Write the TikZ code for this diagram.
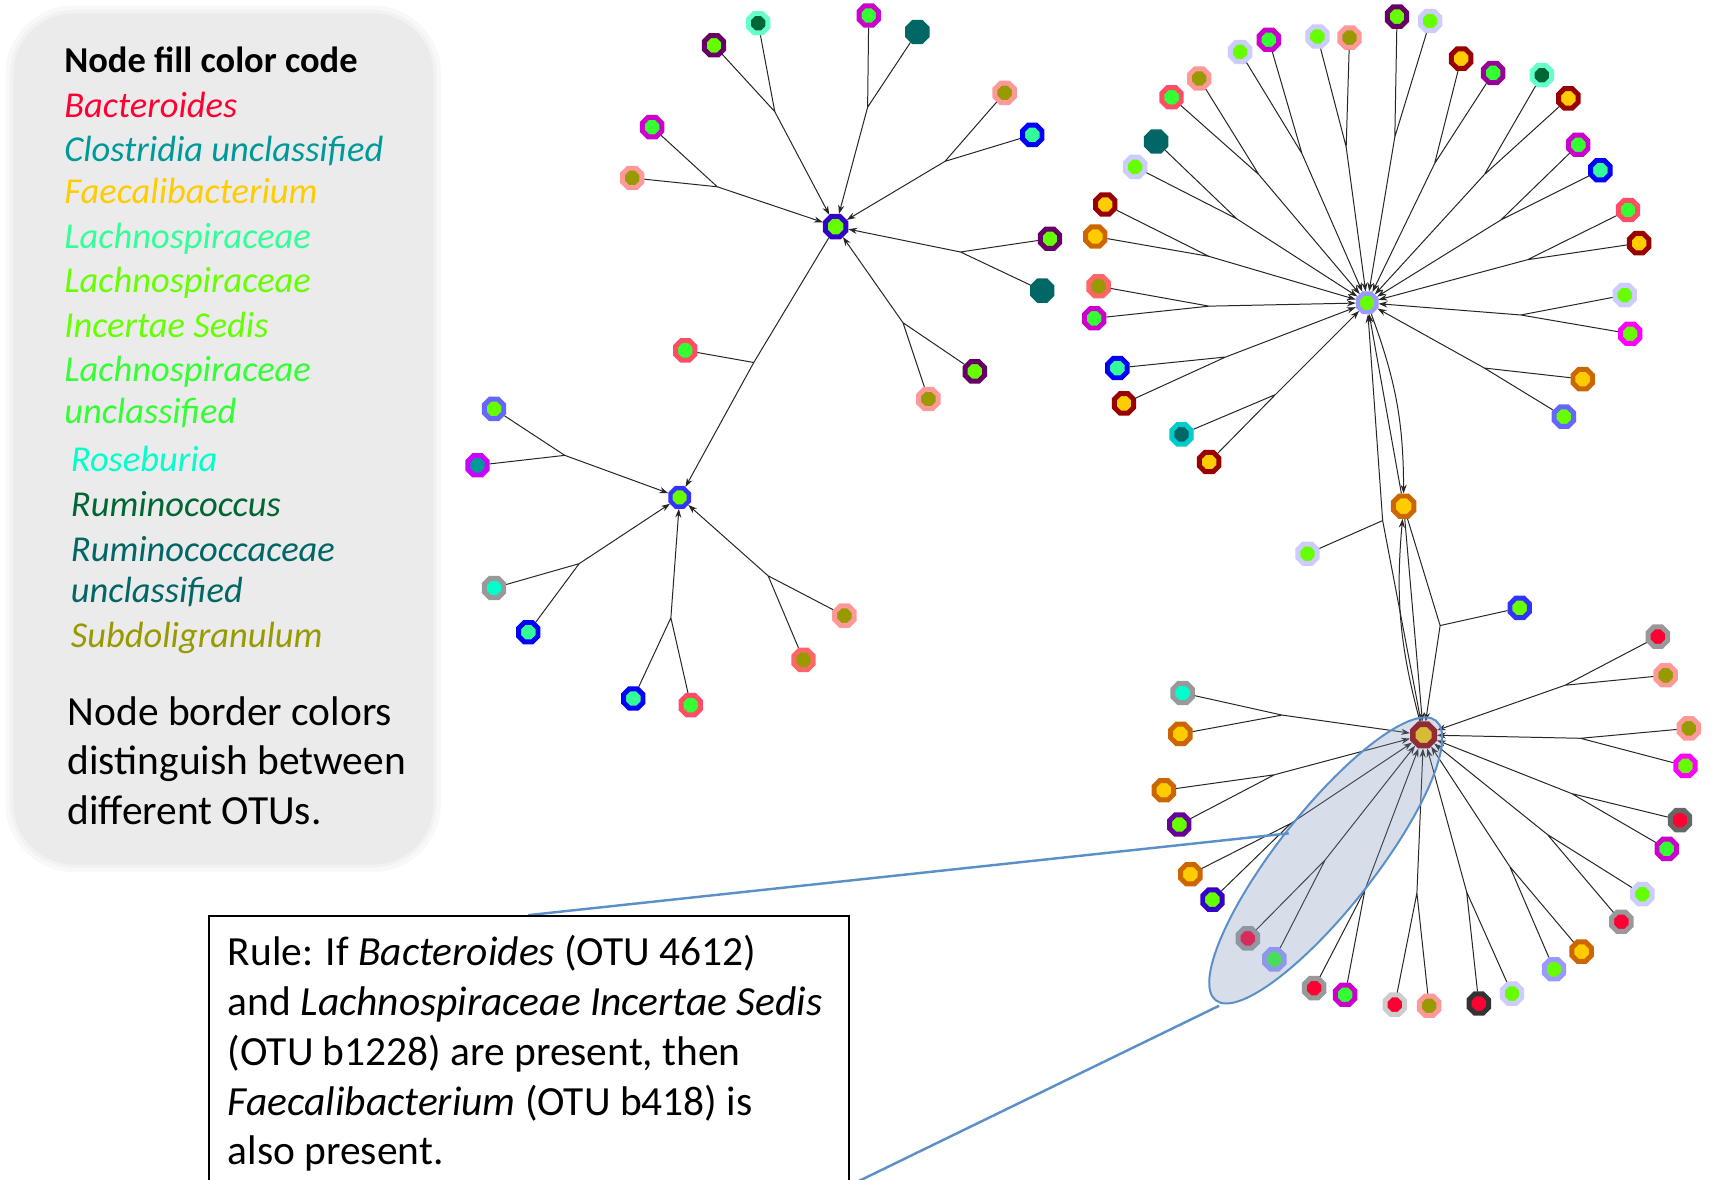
\documentclass[tikz,border=0pt]{standalone}
\usepackage{fontspec}
\setmainfont{Carlito}
\usetikzlibrary{shapes.geometric,arrows.meta}

% border colours (one per OTU family)
\definecolor{bPurple}{HTML}{660066}
\definecolor{bPlum}{HTML}{990099}
\definecolor{bGrape}{HTML}{660099}
\definecolor{bMagenta}{HTML}{CC00CC}
\definecolor{bFuchsia}{HTML}{FF00FF}
\definecolor{bViolet}{HTML}{CC00FF}
\definecolor{bPink}{HTML}{FF9999}
\definecolor{bCoral}{HTML}{FF4D66}
\definecolor{bSalmon}{HTML}{FF6666}
\definecolor{bBlue}{HTML}{0000FF}
\definecolor{bRoyal}{HTML}{3333FF}
\definecolor{bIndigo}{HTML}{3300CC}
\definecolor{bPeri}{HTML}{6666FF}
\definecolor{bLilac}{HTML}{9999FF}
\definecolor{bLavender}{HTML}{CCCCFF}
\definecolor{bDarkRed}{HTML}{990000}
\definecolor{bOrange}{HTML}{CC6600}
\definecolor{bMint}{HTML}{66FFCC}
\definecolor{bGray}{HTML}{999999}
\definecolor{bDimGray}{HTML}{666666}
\definecolor{bCharcoal}{HTML}{333333}
\definecolor{bSilver}{HTML}{CCCCCC}
\definecolor{bCyan}{HTML}{00CCCC}
\definecolor{bTeal}{HTML}{006666}
% fill colours (genus)
\definecolor{fLime}{HTML}{66FF00}
\definecolor{fGreen}{HTML}{33FF33}
\definecolor{fSea}{HTML}{33FF99}
\definecolor{fOlive}{HTML}{999900}
\definecolor{fTeal}{HTML}{006666}
\definecolor{fForest}{HTML}{006633}
\definecolor{fGold}{HTML}{FFCC00}
\definecolor{fRed}{HTML}{FF0033}
\definecolor{fCyan}{HTML}{00FFCC}
\definecolor{fCyanTeal}{HTML}{009999}
% panels
\definecolor{panelGray}{HTML}{EBEBEB}
\definecolor{calloutBlue}{HTML}{5B8FC7}
\definecolor{calloutFill}{HTML}{7B95B8}

\tikzset{
  otu/.style 2 args={regular polygon,regular polygon sides=8,minimum size=19pt,
    inner sep=0pt,line width=4.5pt,draw=#1,fill=#2},
  hub/.style={minimum size=18pt,line width=4pt},
  edge/.style={line width=0.9pt,draw=black!85},
  >={Stealth[length=8pt,width=5.5pt]},
  legend/.style={anchor=base west,inner sep=0pt,font=\fontsize{33}{40}\selectfont\itshape},
  legendhead/.style={anchor=base west,inner sep=0pt,font=\fontsize{33}{40}\selectfont\bfseries},
  note/.style={anchor=base west,inner sep=0pt,font=\fontsize{37.5}{45}\selectfont},
  callout/.style={draw=calloutBlue,line width=2.2pt},
}

\begin{document}
\begin{tikzpicture}[x=1pt,y=-1pt]
\useasboundingbox (0,0) rectangle (1568,1067);
\clip (0,0) rectangle (1568,1067);
\fill[white] (0,0) rectangle (1568,1067);

% legend panel with soft edge
\fill[panelGray!35,rounded corners=62] (5,5) rectangle (399,789);
\fill[panelGray!65,rounded corners=58] (9,9) rectangle (395,785);
\node[fill=panelGray,rounded corners=55,anchor=north west,minimum width=380pt,
  minimum height=770pt,inner sep=0pt] (legend) at (12,12) {};

\node[legendhead] (lhead) at (58,66) {Node fill color code};
\node[legend,text=fRed] (lbact) at (58,106) {Bacteroides};
\node[legend,text=fCyanTeal] (lclos) at (58,146) {Clostridia unclassified};
\node[legend,text=fGold] (lfaec) at (58,184) {Faecalibacterium};
\node[legend,text=fSea] (llach) at (58,225) {Lachnospiraceae};
\node[legend,text=fLime] (lincA) at (58,265) {Lachnospiraceae};
\node[legend,text=fLime] (lincB) at (58,305) {Incertae Sedis};
\node[legend,text=fGreen] (lunclA) at (58,345) {Lachnospiraceae};
\node[legend,text=fGreen] (lunclB) at (58,383) {unclassified};
\node[legend,text=fCyan] (lrose) at (64,427) {Roseburia};
\node[legend,text=fForest] (lrumi) at (64,467) {Ruminococcus};
\node[legend,text=fTeal] (lrcaA) at (64,508) {Ruminococcaceae};
\node[legend,text=fTeal] (lrcaB) at (64,545) {unclassified};
\node[legend,text=fOlive] (lsubd) at (64,586) {Subdoligranulum};
\node[note] (lbordA) at (61,656) {Node border colors};
\node[note] (lbordB) at (61,701) {distinguish between};
\node[note] (lbordC) at (61,746) {different OTUs.};

% first module
\node[otu={bIndigo}{fLime},minimum size=20pt] (hubA) at (756,205) {};
\node[otu={bPurple}{fLime}] (a1) at (646,41) {};
\node[otu={bMint}{fForest}] (a2) at (686,21) {};
\node[otu={bMagenta}{fGreen}] (a3) at (786,14) {};
\node[otu={bTeal}{fTeal}] (a4) at (830,29) {};
\node[otu={bPink}{fOlive}] (a5) at (909,84) {};
\node[otu={bBlue}{fSea}] (a6) at (934,122) {};
\node[otu={bMagenta}{fGreen}] (a7) at (590,115) {};
\node[otu={bPink}{fOlive}] (a8) at (572,161) {};
\node[otu={bPurple}{fLime}] (a9) at (950,216) {};
\node[otu={bTeal}{fTeal}] (a10) at (943,263) {};
\node[otu={bPurple}{fLime}] (a11) at (882,336) {};
\node[otu={bPink}{fOlive}] (a12) at (840,361) {};
\node[otu={bCoral}{fGreen}] (a13) at (620,317) {};
\coordinate (ma1) at (701,101);
\coordinate (ma2) at (785,97);
\coordinate (ma3) at (855,146);
\coordinate (ma4) at (649,169);
\coordinate (ma5) at (869,228);
\coordinate (ma6) at (817,292);
\coordinate (ma7) at (682,328);

% second module
\node[otu={bRoyal}{fLime},hub] (hubB) at (615,450) {};
\node[otu={bPeri}{fLime}] (b1) at (447,370) {};
\node[otu={bViolet}{fCyanTeal}] (b2) at (432,421) {};
\node[otu={bGray}{fCyan}] (b3) at (447,532) {};
\node[otu={bBlue}{fSea}] (b4) at (478,572) {};
\node[otu={bBlue}{fSea}] (b5) at (573,632) {};
\node[otu={bCoral}{fGreen}] (b6) at (625,638) {};
\node[otu={bPink}{fOlive}] (b7) at (764,557) {};
\node[otu={bSalmon}{fOlive}] (b8) at (727,597) {};
\coordinate (mb1) at (511,412);
\coordinate (mb2) at (524,510);
\coordinate (mb3) at (607,559);
\coordinate (mb4) at (695,521);

% third module
\node[otu={bLilac}{fLime},hub] (hubC) at (1237,274) {};
\node[otu={bPurple}{fLime}] (c1) at (1264,15) {};
\node[otu={bLavender}{fLime}] (c2) at (1294,19) {};
\node[otu={bLavender}{fLime}] (c3) at (1192,33) {};
\node[otu={bPink}{fOlive}] (c4) at (1221,34) {};
\node[otu={bMagenta}{fGreen}] (c5) at (1148,36) {};
\node[otu={bLavender}{fLime}] (c6) at (1122,47) {};
\node[otu={bPink}{fOlive}] (c7) at (1085,71) {};
\node[otu={bCoral}{fGreen}] (c8) at (1060,88) {};
\node[otu={bTeal}{fTeal}] (c9) at (1046,128) {};
\node[otu={bLavender}{fLime}] (c10) at (1027,151) {};
\node[otu={bDarkRed}{fGold}] (c11) at (1000,185) {};
\node[otu={bOrange}{fGold}] (c12) at (991,214) {};
\node[otu={bSalmon}{fOlive}] (c13) at (994,259) {};
\node[otu={bMagenta}{fGreen}] (c14) at (990,288) {};
\node[otu={bBlue}{fSea}] (c15) at (1011,333) {};
\node[otu={bDarkRed}{fGold}] (c16) at (1017,365) {};
\node[otu={bCyan}{fTeal}] (c17) at (1069,393) {};
\node[otu={bDarkRed}{fGold}] (c18) at (1094,418) {};
\node[otu={bDarkRed}{fGold}] (c19) at (1322,53) {};
\node[otu={bPlum}{fGreen}] (c20) at (1351,66) {};
\node[otu={bMint}{fForest}] (c21) at (1395,68) {};
\node[otu={bDarkRed}{fGold}] (c22) at (1419,89) {};
\node[otu={bMagenta}{fGreen}] (c23) at (1428,131) {};
\node[otu={bBlue}{fSea}] (c24) at (1448,154) {};
\node[otu={bCoral}{fGreen}] (c25) at (1473,190) {};
\node[otu={bDarkRed}{fGold}] (c26) at (1483,220) {};
\node[otu={bLavender}{fLime}] (c27) at (1470,267) {};
\node[otu={bFuchsia}{fLime}] (c28) at (1475,302) {};
\node[otu={bOrange}{fGold}] (c29) at (1432,343) {};
\node[otu={bPeri}{fLime}] (c30) at (1415,377) {};
\coordinate (mc1) at (1262,124);
\coordinate (mc2) at (1218,133);
\coordinate (mc3) at (1178,139);
\coordinate (mc4) at (1139,158);
\coordinate (mc5) at (1119,198);
\coordinate (mc6) at (1094,232);
\coordinate (mc7) at (1094,277);
\coordinate (mc8) at (1109,323);
\coordinate (mc9) at (1154,357);
\coordinate (mc10) at (1298,148);
\coordinate (mc11) at (1343,158);
\coordinate (mc12) at (1358,199);
\coordinate (mc13) at (1382,235);
\coordinate (mc14) at (1376,285);
\coordinate (mc15) at (1343,333);

% link between third and fourth module
\node[otu={bOrange}{fGold},minimum size=20pt] (hubD) at (1270,458) {};
\node[otu={bLavender}{fLime}] (d1) at (1183,501) {};
\node[otu={bRoyal}{fLime}] (d2) at (1375,550) {};
\coordinate (mcd) at (1251,471);
\coordinate (mde) at (1303,566);

% fourth module
\node[otu={bDarkRed}{fGold},minimum size=21pt,line width=5pt] (hubE) at (1288,665) {};
\node[otu={bGray}{fCyan}] (e1) at (1070,627) {};
\node[otu={bOrange}{fGold}] (e2) at (1068,664) {};
\node[otu={bOrange}{fGold}] (e3) at (1053,715) {};
\node[otu={bGrape}{fLime}] (e4) at (1067,746) {};
\node[otu={bOrange}{fGold}] (e5) at (1077,791) {};
\node[otu={bIndigo}{fLime}] (e6) at (1097,814) {};
\node[otu={bGray}{fRed}] (e7) at (1129,849) {};
\node[otu={bLilac}{fGreen}] (e8) at (1153,868) {};
\node[otu={bGray}{fRed}] (e9) at (1189,894) {};
\node[otu={bMagenta}{fGreen}] (e10) at (1217,900) {};
\node[otu={bSilver}{fRed}] (e11) at (1262,909) {};
\node[otu={bPink}{fOlive}] (e12) at (1293,910) {};
\node[otu={bCharcoal}{fRed}] (e13) at (1338,908) {};
\node[otu={bLavender}{fLime}] (e14) at (1368,899) {};
\node[otu={bLilac}{fLime}] (e15) at (1406,877) {};
\node[otu={bOrange}{fGold}] (e16) at (1431,861) {};
\node[otu={bGray}{fRed}] (e17) at (1467,834) {};
\node[otu={bLavender}{fLime}] (e18) at (1486,809) {};
\node[otu={bDimGray}{fRed}] (e19) at (1520,742) {};
\node[otu={bMagenta}{fGreen}] (e20) at (1508,768) {};
\node[otu={bPink}{fOlive}] (e21) at (1528,659) {};
\node[otu={bFuchsia}{fLime}] (e22) at (1525,693) {};
\node[otu={bGray}{fRed}] (e23) at (1500,576) {};
\node[otu={bPink}{fOlive}] (e24) at (1507,611) {};
\coordinate (me1) at (1160,647);
\coordinate (me2) at (1153,701);
\coordinate (me3) at (1168,745);
\coordinate (me4) at (1199,778);
\coordinate (me5) at (1235,805);
\coordinate (me6) at (1282,808);
\coordinate (me7) at (1327,807);
\coordinate (me8) at (1366,784);
\coordinate (me9) at (1400,755);
\coordinate (me10) at (1422,718);
\coordinate (me11) at (1430,668);
\coordinate (me12) at (1416,620);

% bundled edges
\draw[edge] (a1) -- (ma1) (a2) -- (ma1);
\draw[edge] (a3) -- (ma2) (a4) -- (ma2);
\draw[edge] (a5) -- (ma3) (a6) -- (ma3);
\draw[edge] (a7) -- (ma4) (a8) -- (ma4);
\draw[edge] (a9) -- (ma5) (a10) -- (ma5);
\draw[edge] (a11) -- (ma6) (a12) -- (ma6);
\foreach \m in {ma1,ma2,ma3,ma4,ma5,ma6}
  \draw[edge,->] (\m) -- (hubA);
\draw[edge] (a13) -- (ma7) (hubA) -- (ma7);
\draw[edge,->] (ma7) -- (hubB);

\draw[edge] (b1) -- (mb1) (b2) -- (mb1);
\draw[edge] (b3) -- (mb2) (b4) -- (mb2);
\draw[edge] (b5) -- (mb3) (b6) -- (mb3);
\draw[edge] (b7) -- (mb4) (b8) -- (mb4);
\foreach \m in {mb1,mb2,mb3,mb4}
  \draw[edge,->] (\m) -- (hubB);

\foreach \i/\j/\m in {1/2/mc1,3/4/mc2,5/6/mc3,7/8/mc4,9/10/mc5,11/12/mc6,13/14/mc7,
    15/16/mc8,17/18/mc9,19/20/mc10,21/22/mc11,23/24/mc12,25/26/mc13,27/28/mc14,29/30/mc15}{
  \draw[edge] (c\i) -- (\m) (c\j) -- (\m);
  \draw[edge,->] (\m) -- (hubC);
}

\draw[edge] (d1) -- (mcd) (hubE) -- (mcd);
\draw[edge,->] (mcd) -- (hubC);
\draw[edge,->] (hubD) -- (hubC);
\draw[edge,->] (hubC) to[bend left=10] (hubD);
\draw[edge,->] (hubE) to[bend left=10] (hubD);
\draw[edge,->] (hubD) -- (hubE);
\draw[edge] (d2) -- (mde) (hubD) -- (mde);
\draw[edge,->] (mde) -- (hubE);

\foreach \i/\j/\m in {1/2/me1,3/4/me2,5/6/me3,7/8/me4,9/10/me5,11/12/me6,13/14/me7,
    15/16/me8,17/18/me9,19/20/me10,21/22/me11,23/24/me12}{
  \draw[edge] (e\i) -- (\m) (e\j) -- (\m);
  \draw[edge,->] (\m) -- (hubE);
}

% highlighted rule
\node[ellipse,rotate=51.8,minimum width=322pt,minimum height=88pt,inner sep=0pt,
  fill=calloutFill,fill opacity=0.3,draw=calloutBlue,line width=1.8pt] (focus) at (1199.5,778.5) {};
\coordinate (calloutA) at (478,828);
\coordinate (calloutB) at (1166,754);
\coordinate (calloutC) at (770,1072);
\coordinate (calloutD) at (1103,910);
\draw[callout] (calloutA) -- (calloutB);
\draw[callout] (calloutC) -- (calloutD);

\node[draw=black,line width=2pt,fill=white,anchor=north west,minimum width=579pt,
  minimum height=270pt,inner sep=0pt] (rule) at (188,828) {};
\node[note] (ruleA) at (206,874) {Rule: If \textit{Bacteroides} (OTU 4612)};
\node[note] (ruleB) at (206,919) {and \textit{Lachnospiraceae Incertae Sedis}};
\node[note] (ruleC) at (206,964) {(OTU b1228) are present, then};
\node[note] (ruleD) at (206,1009) {\textit{Faecalibacterium} (OTU b418) is};
\node[note] (ruleE) at (206,1054) {also present.};
\end{tikzpicture}
\end{document}
